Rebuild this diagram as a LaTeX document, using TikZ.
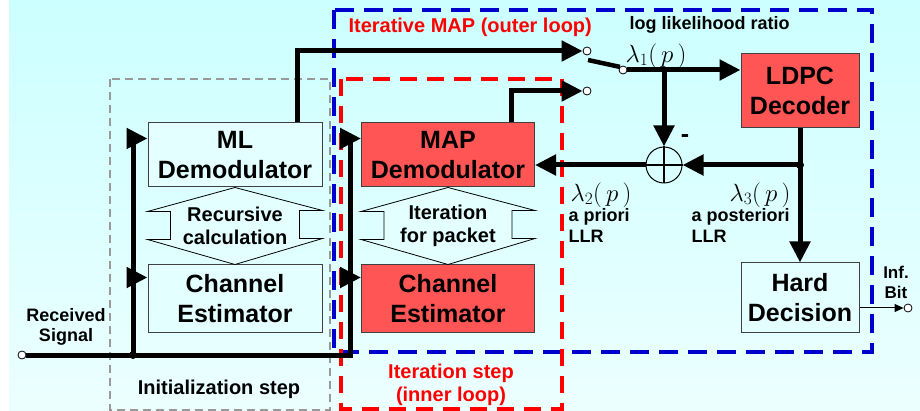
\documentclass[tikz,border=0pt]{standalone}
\usepackage{fontspec}
\setmainfont{Liberation Sans}
\usepackage{tikz}
\usetikzlibrary{arrows.meta,calc}

\definecolor{bgtop}{RGB}{204,255,255}
\definecolor{bgbot}{RGB}{236,255,255}
\definecolor{boxred}{RGB}{255,85,85}
\definecolor{boxcyan}{RGB}{228,255,255}
\definecolor{frameblue}{RGB}{0,0,204}

\newcommand{\boxfont}{\fontsize{25}{30}\selectfont\bfseries}
\newcommand{\midfont}{\fontsize{20}{22.5}\selectfont\bfseries}
\newcommand{\smlfont}{\fontsize{18}{20.5}\selectfont\bfseries}
\newcommand{\llrfont}{\fontsize{23}{26}\selectfont}

\begin{document}
\begin{tikzpicture}[x=1pt,y=-1pt,
  blk/.style={draw=black!75, line width=1pt, align=center, font=\boxfont, inner sep=0pt},
  cyanblk/.style={blk, fill=boxcyan},
  redblk/.style={blk, fill=boxred},
  term/.style={circle, draw=black, fill=white, line width=0.8pt, minimum size=8pt, inner sep=0pt},
  bus/.style={line width=5pt, -{Triangle[length=21pt,width=20pt]}},
  wire/.style={line width=4.5pt},
  dblarrow/.style={draw=black, line width=0.8pt, fill=boxcyan}]

  \useasboundingbox (0,0) rectangle (920,411);
  \fill[white] (0,0) rectangle (9,411);
  \shade[top color=bgtop, bottom color=bgbot] (9,0) rectangle (920,411);

  % frames
  \draw[gray!80, line width=1.2pt, dash pattern=on 8pt off 5pt] (110,79) rectangle (330,410);
  \draw[frameblue, line width=4pt, dash pattern=on 19pt off 10pt] (334,10) rectangle (872,352);
  \draw[red, line width=4pt, dash pattern=on 17pt off 10pt] (341,79) rectangle (562,409);

  % blocks
  \node[cyanblk, minimum width=174pt, minimum height=64pt] (ML) at (235,155) {ML\\Demodulator};
  \node[cyanblk, minimum width=174pt, minimum height=67pt] (CEa) at (235,298.5) {Channel\\Estimator};
  \node[redblk, minimum width=173pt, minimum height=64pt] (MAP) at (448,155) {MAP\\Demodulator};
  \node[redblk, minimum width=173pt, minimum height=67pt] (CEb) at (448,298.5) {Channel\\Estimator};
  \node[redblk, minimum width=118pt, minimum height=74pt] (LDPC) at (800,91) {LDPC\\Decoder};
  \node[cyanblk, minimum width=118pt, minimum height=69pt] (HD) at (800,297.5) {Hard\\Decision};
  \node[circle, draw, line width=1pt, minimum size=36pt, inner sep=0pt] (S) at (664,165) {};
  \draw[line width=1.5pt] (S.north) -- (S.south) (S.west) -- (S.east);

  % terminals
  \node[term] (rx) at (22,355) {};
  \node[term] (swA) at (587,51) {};
  \node[term] (swB) at (587,91) {};
  \node[term] (swP) at (623,70) {};
  \node[term] (out) at (908,308) {};

  \coordinate (j0) at (133,355);
  \coordinate (rb) at (350,355);
  \coordinate (j1) at (664,70);
  \coordinate (j2) at (800,165);
  \coordinate (blade) at (588,60);

  % iteration arrows
  \draw[dblarrow] (ML.south) -- ($(ML.south west)+(0,24)$) -- ++(23,0) -- ++(0,28) -- ++(-23,0)
    -- (CEa.north) -- ($(CEa.north east)+(0,-26)$) -- ++(-23,0) -- ++(0,-28) -- ++(23,0) -- cycle;
  \draw[dblarrow] (MAP.south) -- ($(MAP.south west)+(0,24)$) -- ++(23,0) -- ++(0,28) -- ++(-23,0)
    -- (CEb.north) -- ($(CEb.north east)+(0,-26)$) -- ++(-23,0) -- ++(0,-28) -- ++(23,0) -- cycle;
  \node[font=\midfont, align=center] (rec) at ($(ML.south)!0.5!(CEa.north)$) {Recursive\\calculation};
  \node[font=\midfont, align=center] (itp) at ($(MAP.south)!0.5!(CEb.north)$) {Iteration\\for packet};

  % connections
  \draw[bus] (rx) -- (rb) |- ($(MAP.north west)+(0,16)$);
  \draw[bus] (rb) |- ($(CEb.north west)+(0,13)$);
  \draw[bus] (j0) |- ($(ML.north west)+(0,16)$);
  \draw[bus] (j0) |- ($(CEa.north west)+(0,13)$);
  \draw[bus] ($(ML.north west)+(150,0)$) |- (swA.west);
  \draw[bus] ($(MAP.north west)+(150,0)$) |- (swB.west);
  \draw[wire] (blade) -- (swP.north west);
  \draw[bus] (swP.east) -- (LDPC.west |- swP);
  \draw[bus] (j1) -- (S.north);
  \draw[bus] (LDPC.south) -- (HD.north);
  \draw[bus] (j2) -- (S.east);
  \draw[bus] (S.west) -- (S.west -| MAP.east);
  \draw[line width=1pt, -{Triangle[length=9pt,width=8pt]}] (HD.east |- out) -- (out.west);
  \fill (j0) circle (4pt);
  \fill (j1) circle (3pt);
  \fill (j2) circle (4pt);

  % labels
  \node[font=\midfont, text=red, anchor=west] (outer) at (345,27) {Iterative MAP (outer loop)};
  \node[font=\smlfont, anchor=west] (llr) at (626,25) {log likelihood ratio};
  \node[font=\llrfont] (l1) at (656,56) {$\lambda_1(\,p\,)$};
  \node[font=\llrfont, anchor=west] (l2) at (567,195) {$\lambda_2(\,p\,)$};
  \node[font=\llrfont, anchor=west] (l3) at (726,195) {$\lambda_3(\,p\,)$};
  \node[font=\smlfont, align=left, anchor=north west] (apri) at (565,205) {a priori\\LLR};
  \node[font=\smlfont, align=left, anchor=north west] (apost) at (688,205) {a posteriori\\LLR};
  \node[font=\boxfont] (minus) at (685,139) {-};
  \node[font=\fontsize{17}{20}\selectfont\bfseries, align=center] (inf) at (896,282) {Inf.\\Bit};
  \node[font=\smlfont, align=center] (recv) at (66,327) {Received\\Signal};
  \node[font=\midfont] (init) at (219,389) {Initialization step};
  \node[font=\midfont, text=red, align=center] (inner) at (451,385) {Iteration step\\(inner loop)};
\end{tikzpicture}
\end{document}
